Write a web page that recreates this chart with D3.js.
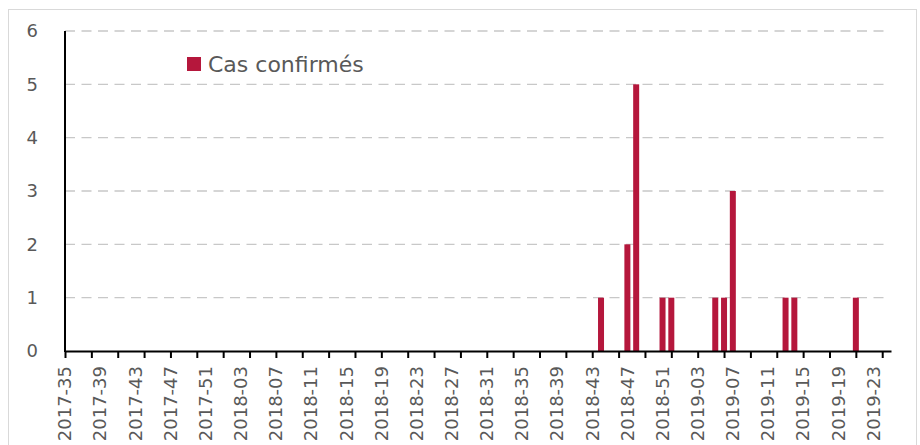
<!DOCTYPE html>
<html>
<head>
<meta charset="utf-8">
<script src="https://cdn.jsdelivr.net/npm/d3@7"></script>
<style>
  body { margin: 0; background: #fff; }
  text { font-family: "DejaVu Sans", Verdana, sans-serif; }
</style>
</head>
<body>
<div id="chart"></div>
<script>
// weekly categories, 2017-35 .. 2019-23
var startWeeks = [["2017", 35, 52], ["2018", 1, 52], ["2019", 1, 23]];
var weeks = [];
startWeeks.forEach(function(s) {
  for (var w = s[1]; w <= s[2]; w++) weeks.push(s[0] + "-" + (w < 10 ? "0" + w : w));
});

// confirmed cases per week (one value per week above)
var cases = [
  0,0,0,0,0,0,0,0,0,0, 0,0,0,0,0,0,0,0,0,0,
  0,0,0,0,0,0,0,0,0,0, 0,0,0,0,0,0,0,0,0,0,
  0,0,0,0,0,0,0,0,0,0, 0,0,0,0,0,0,0,0,0,0,
  0,1,0,0,2,5,0,0,1,1, 0,0,0,0,1,1,3,0,0,0,
  0,0,1,1,0,0,0,0,0,0, 1,0,0
];

var tickLabels = ["2017-35","2017-39","2017-43","2017-47","2017-51","2018-03","2018-07",
  "2018-11","2018-15","2018-19","2018-23","2018-27","2018-31","2018-35","2018-39",
  "2018-43","2018-47","2018-51","2019-03","2019-07","2019-11","2019-15","2019-19","2019-23"];
var yTicks = [0, 1, 2, 3, 4, 5, 6];
var seriesName = "Cas confirmés";

var width = 920, height = 445;
var margin = {top: 31, left: 65, bottom: 94};
var color = "#b5173c";

var svg = d3.select("#chart")
  .append("svg")
    .attr("width", width)
    .attr("height", height);

// outer frame
svg.append("rect")
  .attr("x", 8.5).attr("y", 9.5)
  .attr("width", 908).attr("height", 460)
  .attr("fill", "none")
  .attr("stroke", "#d9d9d9");

var x = d3.scaleLinear()
  .domain([0, 94])
  .range([margin.left, 891]);

var y = d3.scaleLinear()
  .domain([0, 6])
  .range([height - margin.bottom, margin.top]);

// gridlines
svg.append("g")
  .selectAll("line")
  .data(yTicks.filter(function(d) { return d > 0; }))
  .enter().append("line")
    .attr("x1", x(0)).attr("x2", 890)
    .attr("y1", function(d) { return y(d); })
    .attr("y2", function(d) { return y(d); })
    .attr("stroke", "#c8c8c8")
    .attr("stroke-width", 1.3)
    .attr("stroke-dasharray", "10,6.5");

// Y labels
svg.append("g")
  .selectAll("text")
  .data(yTicks)
  .enter().append("text")
    .attr("x", 38)
    .attr("y", function(d) { return y(d); })
    .attr("dy", "0.35em")
    .attr("text-anchor", "end")
    .attr("font-size", "18px")
    .attr("fill", "#595959")
    .text(function(d) { return d; });

// bars
svg.append("g")
  .selectAll("rect")
  .data(cases.map(function(v, i) { return {i: i, v: v}; }).filter(function(d) { return d.v > 0; }))
  .enter().append("rect")
    .attr("x", function(d) { return x(d.i) - 3; })
    .attr("width", 6)
    .attr("y", function(d) { return y(d.v); })
    .attr("height", function(d) { return y(0) - y(d.v); })
    .attr("fill", color);

// X axis: tick marks every 3 weeks
var xAxis = svg.append("g")
  .attr("transform", "translate(0," + y(0) + ")")
  .call(d3.axisBottom(x)
    .tickValues(d3.range(0, 94, 3))
    .tickSize(7)
    .tickSizeOuter(0)
    .tickFormat(""));
xAxis.select(".domain").attr("stroke", "#000").attr("stroke-width", 2);
xAxis.selectAll(".tick line").attr("stroke", "#000").attr("stroke-width", 2);

// X labels every 4 weeks
svg.append("g")
  .selectAll("text")
  .data(tickLabels)
  .enter().append("text")
    .attr("transform", function(d) {
      return "translate(" + x(weeks.indexOf(d)) + "," + 366 + ") rotate(-90)";
    })
    .attr("dy", "0.35em")
    .attr("text-anchor", "end")
    .attr("font-size", "18px")
    .attr("fill", "#595959")
    .text(function(d) { return d; });

// Y axis line
svg.append("line")
  .attr("x1", x(0)).attr("x2", x(0))
  .attr("y1", y(6)).attr("y2", y(0) + 1)
  .attr("stroke", "#000")
  .attr("stroke-width", 2);

// legend
svg.append("rect")
  .attr("x", 187).attr("y", 57)
  .attr("width", 14).attr("height", 14)
  .attr("fill", color);
svg.append("text")
  .attr("x", 208).attr("y", 72)
  .attr("font-size", "22px")
  .attr("fill", "#595959")
  .text(seriesName);
</script>
</body>
</html>
